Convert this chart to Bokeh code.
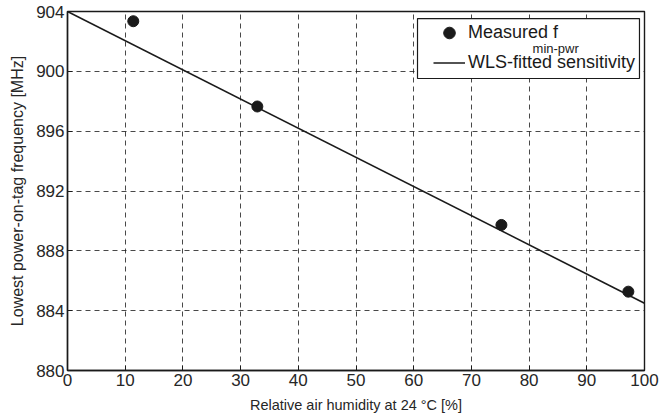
from bokeh.plotting import figure
from bokeh.models import Range1d, Legend, LegendItem, Label, FixedTicker, BoxAnnotation
from bokeh.embed import file_html
from bokeh.resources import INLINE

# data
humidity = [11.4, 32.9, 75.2, 97.2]
f_min_pwr = [903.35, 897.65, 889.73, 885.27]
fit_x = [0, 100]
fit_y = [904.0, 884.5]
x_ticks = [0, 10, 20, 30, 40, 50, 60, 70, 80, 90, 100]
y_ticks = [880, 884, 888, 892, 896, 900, 904]

FONT = "Liberation Sans"

p = figure(frame_width=577, frame_height=359, output_backend="svg", toolbar_location=None,
           x_range=Range1d(0, 100), y_range=Range1d(880, 904),
           min_border_left=67, min_border_right=16, min_border_top=11, min_border_bottom=48)
p.background_fill_color = "white"
p.border_fill_color = "white"
p.outline_line_color = "#1a1a1a"
p.outline_line_width = 1.4

for ax in (p.xaxis[0], p.yaxis[0]):
    ax.major_tick_in = 5
    ax.major_tick_out = 0
    ax.minor_tick_line_color = None
    ax.axis_line_color = "#1a1a1a"
    ax.axis_line_width = 1.4
    ax.major_tick_line_color = "#1a1a1a"
    ax.major_label_text_font = FONT
    ax.major_label_text_font_size = "17px"
    ax.major_label_text_color = "#262626"
    ax.axis_label_text_font = FONT
    ax.axis_label_text_font_style = "normal"
    ax.axis_label_text_color = "#262626"

p.xaxis[0].axis_label_text_font_size = "14.5px"
p.yaxis[0].axis_label_text_font_size = "16px"
p.xaxis[0].ticker = FixedTicker(ticks=x_ticks)
p.yaxis[0].ticker = FixedTicker(ticks=y_ticks)
p.xaxis[0].axis_label = "Relative air humidity at 24 \u00b0C [%]"
p.yaxis[0].axis_label = "Lowest power-on-tag frequency [MHz]"
p.xaxis[0].major_label_standoff = 3
p.yaxis[0].major_label_standoff = 3
p.xaxis[0].axis_label_standoff = 8
p.yaxis[0].axis_label_standoff = 7

p.grid.grid_line_color = "#1a1a1a"
p.grid.grid_line_alpha = 0.8
p.grid.grid_line_dash = "5 4"
p.grid.grid_line_width = 1
p.xgrid.ticker = FixedTicker(ticks=x_ticks)
p.ygrid.ticker = FixedTicker(ticks=y_ticks)

ln = p.line(fit_x, fit_y, line_color="#1a1a1a", line_width=1.6)
pts = p.scatter(humidity, f_min_pwr, size=11, marker="circle", fill_color="#1a1a1a", line_color="#1a1a1a")

# legend frame (white, opaque)
box = BoxAnnotation(left=60.66, right=99.13, top=903.53, bottom=899.52,
                    fill_color="white", fill_alpha=1.0, line_color="#1a1a1a",
                    line_width=1.2, line_alpha=1.0)
p.add_layout(box)

legend = Legend(items=[LegendItem(label="Measured f", renderers=[pts]),
                       LegendItem(label="WLS-fitted sensitivity", renderers=[ln])],
                location=(366, 293), label_text_font=FONT, label_text_font_size="18px",
                label_text_color="#1a1a1a", border_line_color=None,
                glyph_width=32, glyph_height=29, spacing=1, padding=0, margin=0,
                label_standoff=3, label_height=29, background_fill_alpha=0.0)
p.add_layout(legend, "center")

sub = Label(x=80.6, y=901.55, text="min-pwr", text_font=FONT, text_font_size="13px",
            text_color="#1a1a1a", text_baseline="alphabetic", level="overlay")
p.add_layout(sub)

open("out.html", "w").write(file_html(p, INLINE))
